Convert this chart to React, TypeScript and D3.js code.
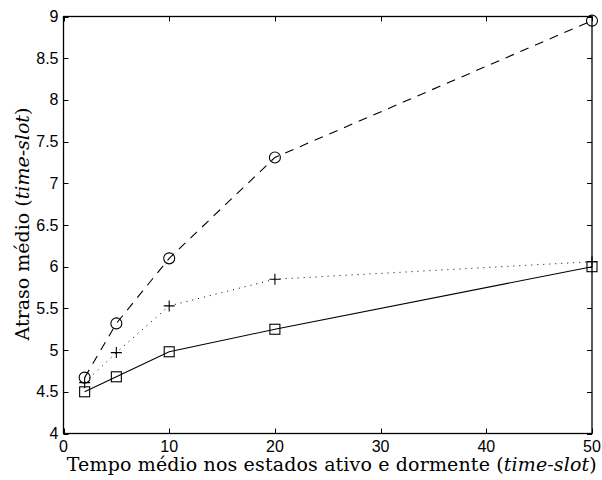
import React, { useEffect, useRef } from "react";
import * as d3 from "d3";

const xValues = [2, 5, 10, 20, 50];
const circleSeries = [4.67, 5.32, 6.1, 7.31, 8.95];
const plusSeries = [4.61, 4.97, 5.53, 5.85, 6.06];
const squareSeries = [4.5, 4.68, 4.98, 5.25, 6.0];
const xTicks = [0, 10, 20, 30, 40, 50];
const yTicks = [4, 4.5, 5, 5.5, 6, 6.5, 7, 7.5, 8, 8.5, 9];

const App = () => {
  const svgRef = useRef<SVGSVGElement>(null);

  useEffect(() => {
    const svg = d3.select(svgRef.current);
    svg.selectAll("*").remove();

    const left = 63.5;
    const right = 592;
    const top = 16.5;
    const bottom = 433.5;

    const xScale = d3.scaleLinear().domain([0, 50]).range([left, right]);
    const yScale = d3.scaleLinear().domain([4, 9]).range([bottom, top]);

    const tickFont = "'Liberation Sans', Arial, sans-serif";
    const labelFont = "'DejaVu Serif', 'Liberation Serif', serif";

    // ticks (inward, all four sides)
    const g = svg.append("g").attr("stroke", "#000").attr("stroke-width", 1);
    xTicks.forEach((t) => {
      const x = Math.round(xScale(t)) + 0.5;
      g.append("line").attr("x1", x).attr("x2", x).attr("y1", bottom).attr("y2", bottom - 5);
      g.append("line").attr("x1", x).attr("x2", x).attr("y1", top).attr("y2", top + 5);
    });
    yTicks.forEach((t) => {
      const y = Math.round(yScale(t)) + 0.5;
      g.append("line").attr("x1", left).attr("x2", left + 5).attr("y1", y).attr("y2", y);
      g.append("line").attr("x1", right).attr("x2", right - 5).attr("y1", y).attr("y2", y);
    });

    // frame
    svg
      .append("rect")
      .attr("x", left)
      .attr("y", top)
      .attr("width", right - left)
      .attr("height", bottom - top)
      .attr("fill", "none")
      .attr("stroke", "#000")
      .attr("stroke-width", 1.3);

    // tick labels
    svg
      .append("g")
      .selectAll("text")
      .data(xTicks)
      .join("text")
      .attr("x", (d) => xScale(d))
      .attr("y", bottom + 18)
      .attr("text-anchor", "middle")
      .attr("font-family", tickFont)
      .attr("font-size", 16)
      .text((d) => d);

    svg
      .append("g")
      .selectAll("text")
      .data(yTicks)
      .join("text")
      .attr("x", left - 5)
      .attr("y", (d) => yScale(d) + 5.5)
      .attr("text-anchor", "end")
      .attr("font-family", tickFont)
      .attr("font-size", 16)
      .text((d) => d);

    // lines
    const line = (vals: number[]) =>
      d3
        .line<number>()
        .x((_, i) => xScale(xValues[i]))
        .y((d) => yScale(d))(vals);

    svg
      .append("path")
      .attr("d", line(squareSeries))
      .attr("fill", "none")
      .attr("stroke", "#000")
      .attr("stroke-width", 1.1);

    svg
      .append("path")
      .attr("d", line(plusSeries))
      .attr("fill", "none")
      .attr("stroke", "#000")
      .attr("stroke-width", 1)
      .attr("stroke-dasharray", "1 5");

    svg
      .append("path")
      .attr("d", line(circleSeries))
      .attr("fill", "none")
      .attr("stroke", "#000")
      .attr("stroke-width", 1.1)
      .attr("stroke-dasharray", "9 7");

    // markers
    svg
      .append("g")
      .selectAll("circle")
      .data(circleSeries)
      .join("circle")
      .attr("cx", (_, i) => xScale(xValues[i]))
      .attr("cy", (d) => yScale(d))
      .attr("r", 5.5)
      .attr("fill", "none")
      .attr("stroke", "#000")
      .attr("stroke-width", 1.1);

    svg
      .append("g")
      .selectAll("path")
      .data(plusSeries)
      .join("path")
      .attr("d", (d, i) => {
        const x = xScale(xValues[i]);
        const y = yScale(d);
        return `M${x - 5.5},${y}H${x + 5.5}M${x},${y - 5.5}V${y + 5.5}`;
      })
      .attr("fill", "none")
      .attr("stroke", "#000")
      .attr("stroke-width", 1.1);

    svg
      .append("g")
      .selectAll("rect")
      .data(squareSeries)
      .join("rect")
      .attr("x", (_, i) => xScale(xValues[i]) - 5)
      .attr("y", (d) => yScale(d) - 5)
      .attr("width", 10)
      .attr("height", 10)
      .attr("fill", "none")
      .attr("stroke", "#000")
      .attr("stroke-width", 1.1);

    // axis labels
    const xl = svg
      .append("text")
      .attr("x", (left + right) / 2 + 4)
      .attr("y", 471)
      .attr("text-anchor", "middle")
      .attr("font-family", labelFont)
      .attr("font-size", 19)
      .attr("textLength", 530)
      .attr("lengthAdjust", "spacing");
    xl.append("tspan").text("Tempo médio nos estados ativo e dormente (");
    xl.append("tspan").attr("font-style", "italic").text("time-slot");
    xl.append("tspan").text(")");

    const yl = svg
      .append("text")
      .attr("transform", `translate(29, ${(top + bottom) / 2 - 1}) rotate(-90)`)
      .attr("text-anchor", "middle")
      .attr("font-family", labelFont)
      .attr("font-size", 19);
    yl.append("tspan").text("Atraso médio (");
    yl.append("tspan").attr("font-style", "italic").text("time-slot");
    yl.append("tspan").text(")");
  }, []);

  return (
    <svg
      ref={svgRef}
      width={602}
      height={480}
      style={{ position: "absolute", left: 0, top: 0, background: "#fff" }}
    ></svg>
  );
};

export default App;
